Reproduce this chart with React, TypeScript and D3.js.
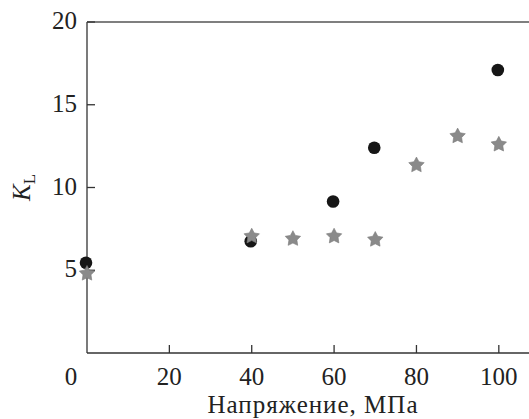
import React, { useRef, useEffect } from "react";
import * as d3 from "d3";

// K_L vs stress, two sample series
const circleStress = [0, 40, 60, 70, 100];
const circleK = [5.45, 6.75, 9.15, 12.4, 17.1];

const starStress = [0, 40, 50, 60, 70, 80, 90, 100];
const starK = [4.8, 7.05, 6.9, 7.05, 6.85, 11.35, 13.1, 12.6];

const xTicks = [0, 20, 40, 60, 80, 100];
const yTicks = [5, 10, 15, 20];

// fatter five-point star than d3.symbolStar
const fatStar = {
  draw(ctx: any, size: number) {
    const R = Math.sqrt(size / 1.6);
    const r = R * 0.52;
    for (let i = 0; i < 10; i++) {
      const rad = i % 2 === 0 ? R : r;
      const a = (Math.PI / 5) * i - Math.PI / 2;
      const px = Math.cos(a) * rad;
      const py = Math.sin(a) * rad;
      if (i === 0) ctx.moveTo(px, py);
      else ctx.lineTo(px, py);
    }
    ctx.closePath();
  },
};

const App = () => {
  const svgRef = useRef<SVGSVGElement>(null);

  useEffect(() => {
    const W = 529,
      H = 419;
    const margin = { top: 22, left: 87, bottom: 66 };
    const plotH = H - margin.top - margin.bottom;

    const svg = d3.select(svgRef.current).attr("width", W).attr("height", H);
    svg.selectAll("*").remove();

    const x = d3.scaleLinear().domain([0, 110]).range([margin.left, margin.left + 453]);
    const y = d3.scaleLinear().domain([0, 20]).range([margin.top + plotH, margin.top]);

    const font = '"Liberation Serif", "DejaVu Serif", "Times New Roman", serif';
    const axisColor = "#333";
    const fs = "25px";

    // frame: left, bottom, top
    const g = svg.append("g");
    g.append("line")
      .attr("x1", x(0)).attr("x2", x(0))
      .attr("y1", y(0)).attr("y2", y(20))
      .attr("stroke", axisColor).attr("stroke-width", 1.3);
    g.append("line")
      .attr("x1", x(0)).attr("x2", x(110))
      .attr("y1", y(0)).attr("y2", y(0))
      .attr("stroke", axisColor).attr("stroke-width", 1.3);
    g.append("line")
      .attr("x1", x(0)).attr("x2", x(110))
      .attr("y1", y(20)).attr("y2", y(20))
      .attr("stroke", "#555").attr("stroke-width", 1.3);

    // inward ticks
    g.selectAll(".xt")
      .data(xTicks.filter((d) => d > 0))
      .enter()
      .append("line")
      .attr("x1", (d) => x(d)).attr("x2", (d) => x(d))
      .attr("y1", y(0)).attr("y2", y(0) - 8)
      .attr("stroke", axisColor).attr("stroke-width", 1.3);
    g.selectAll(".yt")
      .data(yTicks)
      .enter()
      .append("line")
      .attr("x1", x(0)).attr("x2", x(0) + 8)
      .attr("y1", (d) => y(d)).attr("y2", (d) => y(d))
      .attr("stroke", axisColor).attr("stroke-width", 1.3);

    // tick labels
    g.selectAll(".xl")
      .data(xTicks)
      .enter()
      .append("text")
      .attr("x", (d) => x(d) - (d === 0 ? 16 : 0))
      .attr("y", y(0) + 32)
      .attr("text-anchor", "middle")
      .style("font-family", font)
      .style("font-size", fs)
      .attr("fill", "#222")
      .text((d) => d);
    g.selectAll(".yl")
      .data(yTicks)
      .enter()
      .append("text")
      .attr("x", x(0) - 10)
      .attr("y", (d) => y(d) + 7)
      .attr("text-anchor", "end")
      .style("font-family", font)
      .style("font-size", fs)
      .attr("fill", "#222")
      .text((d) => d);

    // axis titles
    svg.append("text")
      .attr("x", 313)
      .attr("y", 413)
      .attr("text-anchor", "middle")
      .style("font-family", font)
      .style("font-size", fs)
      .style("letter-spacing", "1px")
      .attr("fill", "#222")
      .text("Напряжение, МПа");

    const yt = svg.append("text")
      .attr("transform", `translate(30,${y(10)}) rotate(-90)`)
      .attr("text-anchor", "middle")
      .style("font-family", font)
      .style("font-size", fs)
      .attr("fill", "#222");
    yt.append("tspan").style("font-style", "italic").text("K");
    yt.append("tspan").style("font-size", "17px").attr("dy", 5).text("L");

    // circles
    svg.append("g")
      .selectAll("circle")
      .data(circleStress.map((s, i) => [s, circleK[i]]))
      .enter()
      .append("circle")
      .attr("cx", (d) => x(d[0]) - 1)
      .attr("cy", (d) => y(d[1]))
      .attr("r", 6.3)
      .attr("fill", "#161616");

    // stars
    const star = d3.symbol().type(fatStar as any).size(105);
    svg.append("g")
      .selectAll("path")
      .data(starStress.map((s, i) => [s, starK[i]]))
      .enter()
      .append("path")
      .attr("d", star)
      .attr("transform", (d) => `translate(${x(d[0])},${y(d[1])})`)
      .attr("fill", "#8a8a8a")
      .attr("stroke", "#7a7a7a")
      .attr("stroke-width", 0.6);
  }, []);

  return (
    <svg ref={svgRef} style={{ position: "absolute", left: 0, top: 0 }}></svg>
  );
};

export default App;
